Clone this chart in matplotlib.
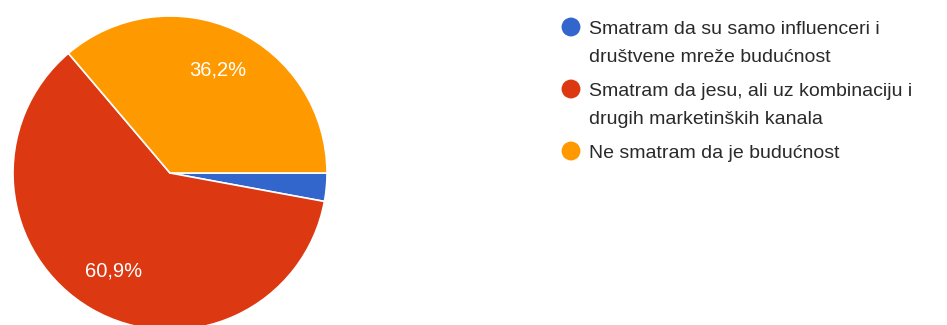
import matplotlib.pyplot as plt

labels = [
    "Smatram da su samo influenceri i\ndruštvene mreže budućnost",
    "Smatram da jesu, ali uz kombinaciju i\ndrugih marketinških kanala",
    "Ne smatram da je budućnost",
]
values = [2.9, 60.9, 36.2]
colors = ["#3366cc", "#dc3912", "#ff9900"]

plt.rcParams['font.family'] = ['Liberation Sans', 'DejaVu Sans']

W, H = 947, 325
fig = plt.figure(figsize=(W / 100, H / 100), dpi=100)

# pie: center (170, 173) px, radius 157 px
cx, cy, r = 170, 173, 157
ax = fig.add_axes([(cx - r) / W, (H - cy - r) / H, 2 * r / W, 2 * r / H])


def pct(p):
    return f"{p:.1f}%".replace('.', ',') if p > 5 else ''


wedges, texts, autotexts = ax.pie(
    values, colors=colors, startangle=0, counterclock=False,
    autopct=pct, pctdistance=0.72, radius=1,
    wedgeprops=dict(edgecolor='white', linewidth=1.2),
    textprops=dict(color='white', fontsize=14.5),
)
ax.set_xlim(-1, 1)
ax.set_ylim(-1, 1)
ax.set_aspect('equal')

# legend drawn in pixel coordinates
lg = fig.add_axes([0, 0, 1, 1])
lg.set_xlim(0, W)
lg.set_ylim(H, 0)
lg.axis('off')

y = 27
for lab, col in zip(labels, colors):
    lg.scatter([571], [y], s=185, color=col, edgecolors='none')
    for line in lab.split('\n'):
        lg.text(589, y, line, fontsize=14, color='#2a2a2a', va='center_baseline', ha='left')
        y += 28
    y += 6

fig.savefig('out.png', dpi=100)
